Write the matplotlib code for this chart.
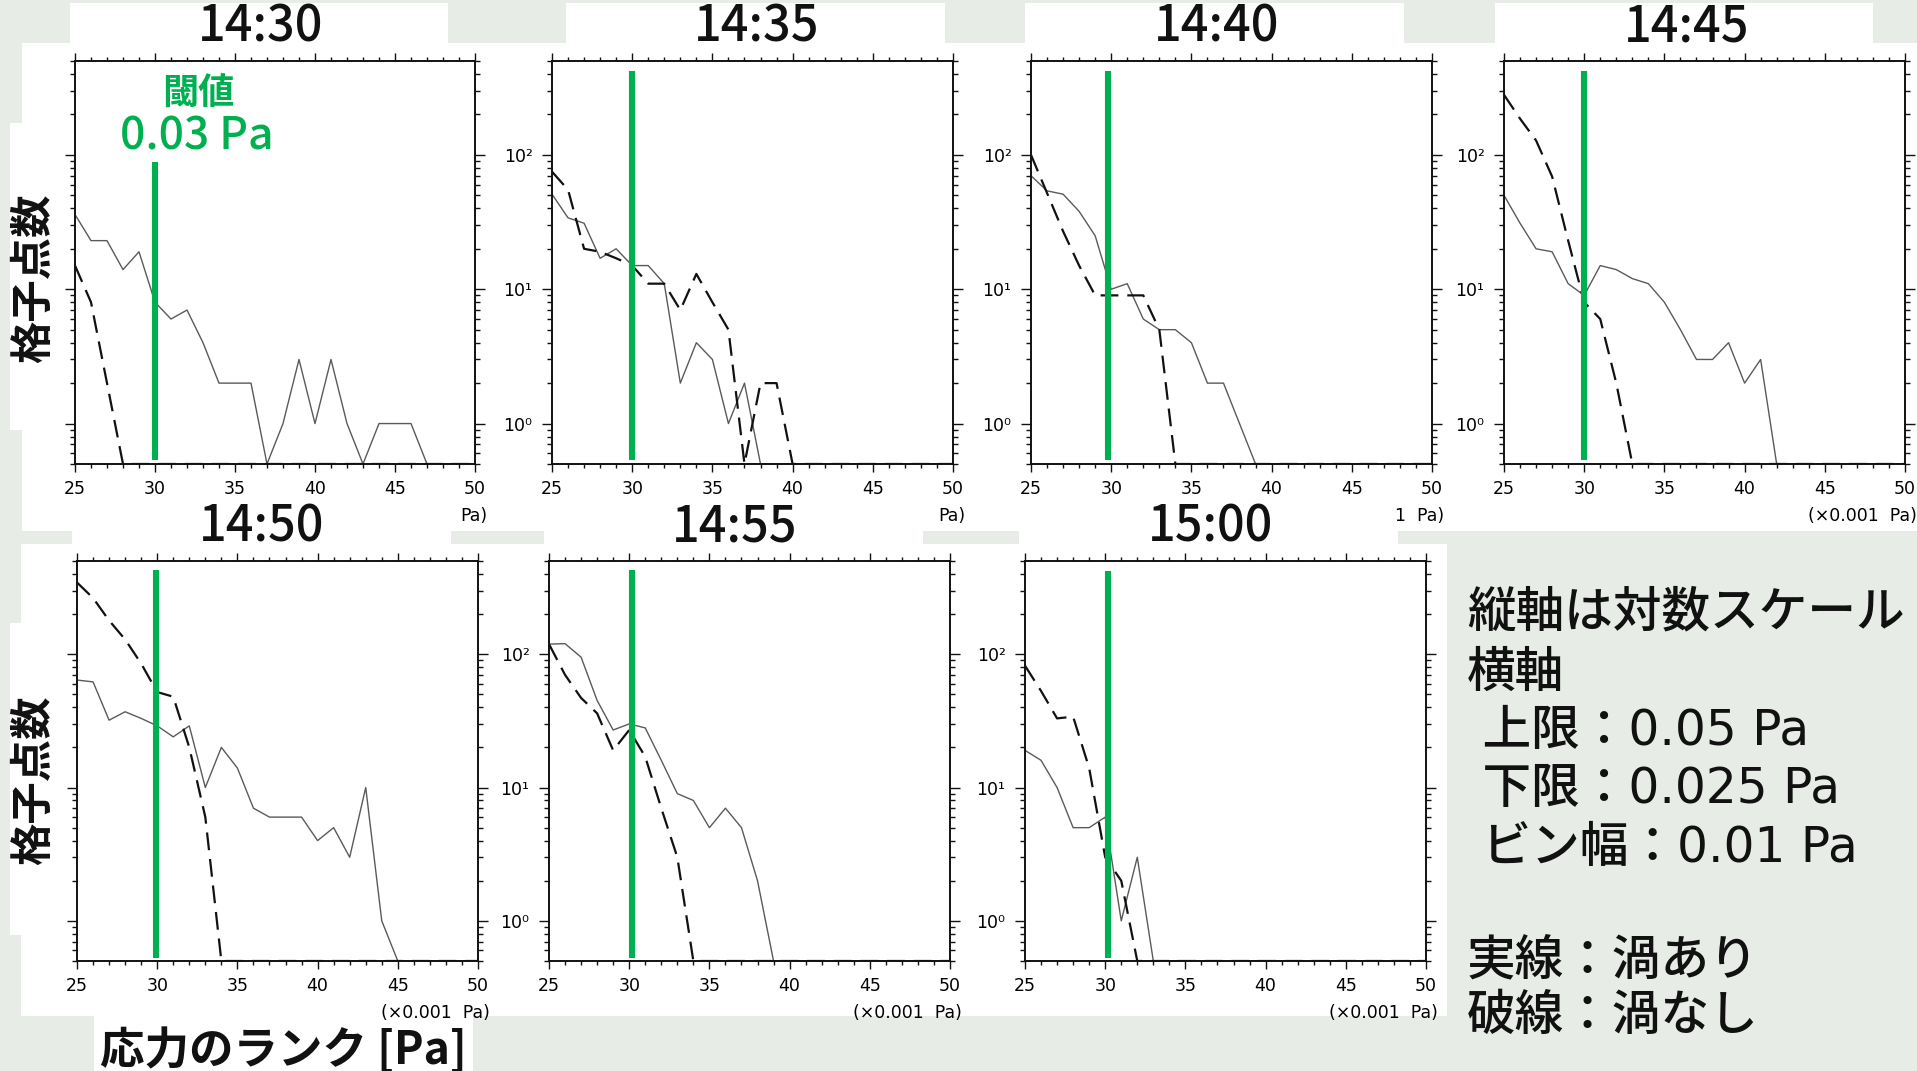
import numpy as np
import matplotlib
matplotlib.use("Agg")
import matplotlib.pyplot as plt
from matplotlib.patches import Rectangle
from matplotlib.ticker import FixedLocator, LogLocator, NullFormatter, MultipleLocator, FixedFormatter

plt.rcParams['font.family'] = ['Noto Sans CJK JP', 'DejaVu Sans']

# ---------------- data ----------------
bins = [25, 26, 27, 28, 29, 30, 31, 32, 33, 34, 35, 36, 37, 38, 39, 40,
        41, 42, 43, 44, 45, 46, 47, 48, 49, 50]          # stress rank (x0.001 Pa)
times = ["14:30", "14:35", "14:40", "14:45", "14:50", "14:55", "15:00"]

# solid line: with eddy (渦あり)
solid_1430 = [36, 23, 23, 14, 19, 8, 6, 7, 4, 2, 2, 2, 0, 1, 3, 1, 3, 1, 0, 1, 1, 1, 0, 0, 0, 0]
solid_1435 = [51, 34, 31, 17, 20, 15, 15, 11, 2, 4, 3, 1, 2, 0, 0, 0, 0, 0, 0, 0, 0, 0, 0, 0, 0, 0]
solid_1440 = [70, 54, 51, 38, 25, 10, 11, 6, 5, 5, 4, 2, 2, 1, 0, 0, 0, 0, 0, 0, 0, 0, 0, 0, 0, 0]
solid_1445 = [50, 31, 20, 19, 11, 9, 15, 14, 12, 11, 8, 5, 3, 3, 4, 2, 3, 0, 0, 0, 0, 0, 0, 0, 0, 0]
solid_1450 = [64, 62, 32, 37, 33, 29, 24, 29, 10, 20, 14, 7, 6, 6, 6, 4, 5, 3, 10, 1, 0, 0, 0, 0, 0, 0]
solid_1455 = [119, 120, 95, 45, 27, 30, 28, 16, 9, 8, 5, 7, 5, 2, 0, 0, 0, 0, 0, 0, 0, 0, 0, 0, 0, 0]
solid_1500 = [19, 16, 10, 5, 5, 6, 1, 3, 0, 0, 0, 0, 0, 0, 0, 0, 0, 0, 0, 0, 0, 0, 0, 0, 0, 0]

# dashed line: without eddy (渦なし)
dashed_1430 = [15, 8, 2, 0, 0, 0, 0, 0, 0, 0, 0, 0, 0, 0, 0, 0, 0, 0, 0, 0, 0, 0, 0, 0, 0, 0]
dashed_1435 = [75, 55, 20, 19, 17, 15, 11, 11, 7, 13, 8, 5, 0, 2, 2, 0, 0, 0, 0, 0, 0, 0, 0, 0, 0, 0]
dashed_1440 = [100, 52, 27, 15, 9, 9, 9, 9, 5, 0, 0, 0, 0, 0, 0, 0, 0, 0, 0, 0, 0, 0, 0, 0, 0, 0]
dashed_1445 = [280, 186, 128, 69, 23, 8, 6, 2, 0, 0, 0, 0, 0, 0, 0, 0, 0, 0, 0, 0, 0, 0, 0, 0, 0, 0]
dashed_1450 = [345, 264, 179, 129, 85, 52, 48, 20, 6, 0, 0, 0, 0, 0, 0, 0, 0, 0, 0, 0, 0, 0, 0, 0, 0, 0]
dashed_1455 = [119, 70, 47, 36, 19, 27, 17, 7, 3, 0, 0, 0, 0, 0, 0, 0, 0, 0, 0, 0, 0, 0, 0, 0, 0, 0]
dashed_1500 = [82, 53, 33, 34, 14, 3, 2, 0, 0, 0, 0, 0, 0, 0, 0, 0, 0, 0, 0, 0, 0, 0, 0, 0, 0, 0]

threshold_x = [30.0, 30.0, 29.8, 30.0, 29.9, 30.15, 30.15]   # threshold 0.03 Pa
xticks = [25, 30, 35, 40, 45, 50]
xtick_labels = ["25", "30", "35", "40", "45", "50"]
yticks = [1, 10, 100]
ytick_labels = ["10⁰", "10¹", "10²"]
xunit_labels = ["Pa)", "Pa)", "1  Pa)", "(×0.001  Pa)", "(×0.001  Pa)", "(×0.001  Pa)", "(×0.001  Pa)"]
notes = ["縦軸は対数スケール", "横軸", " 上限：0.05 Pa", " 下限：0.025 Pa", " ビン幅：0.01 Pa",
         "実線：渦あり", "破線：渦なし"]

solids = [solid_1430, solid_1435, solid_1440, solid_1445, solid_1450, solid_1455, solid_1500]
dasheds = [dashed_1430, dashed_1435, dashed_1440, dashed_1445, dashed_1450, dashed_1455, dashed_1500]

# ---------------- layout ----------------
W, H = 1917, 1071
DPI = 100
BG = "#e7ece6"
GREEN = "#00b050"
YMIN, YMAX = 0.5, 500
TICKFONT = ["DejaVu Sans"]

fig = plt.figure(figsize=(W / DPI, H / DPI), dpi=DPI, facecolor=BG)


def px_rect(x0, y0, x1, y1):
    return [x0 / W, 1 - y1 / H, (x1 - x0) / W, (y1 - y0) / H]


def white_box(x0, y0, x1, y1, color="white"):
    r = Rectangle((x0 / W, 1 - y1 / H), (x1 - x0) / W, (y1 - y0) / H,
                  transform=fig.transFigure, facecolor=color, edgecolor="none", zorder=-5)
    fig.add_artist(r)


# white paper areas (collage look)
for bx in [(70, 3, 448, 43), (566, 3, 945, 43), (1025, 3, 1404, 45), (1495, 3, 1873, 45),
           (22, 43, 1917, 531),
           (72, 505, 451, 546), (544, 505, 923, 546), (1019, 505, 1398, 546),
           (21, 544, 1447, 1016),
           (10, 123, 22, 430), (10, 623, 22, 935),
           (94, 1016, 473, 1071)]:
    white_box(*bx)

# axes positions (pixels)
axes_px = [(75, 61, 475, 464), (552, 61, 953, 464), (1031, 61, 1432, 464), (1504, 61, 1905, 464),
           (77, 561, 478, 961), (549, 561, 950, 961), (1025, 561, 1426, 961)]
title_px = [(261, 27), (757, 27), (1217, 27), (1687, 27), (262, 528), (735, 528), (1210, 528)]
green_span = [(0.01, 0.75), (0.01, 0.975), (0.01, 0.975), (0.01, 0.975),
              (0.008, 0.978), (0.008, 0.978), (0.008, 0.975)]

for i, (x0, y0, x1, y1) in enumerate(axes_px):
    ax = fig.add_axes(px_rect(x0, y0, x1, y1))
    ax.set_facecolor("white")
    ax.set_yscale("log")
    ax.set_xlim(25, 50)
    ax.set_ylim(YMIN, YMAX)

    xs = np.array(bins)
    s = np.clip(np.array(solids[i], dtype=float), YMIN, None)
    d = np.clip(np.array(dasheds[i], dtype=float), YMIN, None)
    ax.plot(xs, s, color="#5a5a5a", lw=1.0, zorder=2)
    ax.plot(xs, d, color="#111111", lw=1.6, linestyle=(0, (8, 4)), zorder=2)
    ax.axvline(threshold_x[i], ymin=green_span[i][0], ymax=green_span[i][1],
               color=GREEN, lw=4.4, solid_capstyle="butt", zorder=3)

    ax.xaxis.set_major_locator(FixedLocator(xticks))
    ax.xaxis.set_major_formatter(FixedFormatter(xtick_labels))
    ax.xaxis.set_minor_locator(MultipleLocator(1))
    ax.yaxis.set_major_locator(FixedLocator(yticks))
    ax.yaxis.set_major_formatter(FixedFormatter(ytick_labels))
    ax.yaxis.set_minor_locator(LogLocator(base=10, subs=range(2, 10), numticks=20))
    ax.yaxis.set_minor_formatter(NullFormatter())

    for sp in ax.spines.values():
        sp.set_linewidth(1.4)
        sp.set_color("#111111")
    ax.tick_params(axis="both", which="both", direction="out", top=True, right=True,
                   color="#111111", width=1.0)
    ax.tick_params(axis="x", which="major", length=5.5, pad=6, labelsize=12.5)
    ax.tick_params(axis="x", which="minor", length=3)
    ax.tick_params(axis="y", which="major", length=7, pad=7, labelsize=12.5)
    ax.tick_params(axis="y", which="minor", length=3.5)
    for lab in ax.get_xticklabels() + ax.get_yticklabels():
        lab.set_fontfamily(TICKFONT)
    if i in (0, 4):
        ax.tick_params(axis="y", which="both", labelleft=False)

    # unit label under x axis
    fig.text((x1 + 12) / W, 1 - (y1 + 52) / H, xunit_labels[i],
             ha="right", va="center", fontsize=12.5, family=TICKFONT)
    # panel title
    fig.text(title_px[i][0] / W, 1 - title_px[i][1] / H, times[i], ha="center", va="center",
             fontsize=35, fontweight="medium", color="#111111")

# y labels
for yc in (278, 780):
    fig.text(34 / W, 1 - yc / H, "格子点数", rotation=90, ha="center", va="center",
             fontsize=30.5, fontweight="bold", color="#111111")

# x label
fig.text(283 / W, 1 - 1051 / H, "応力のランク [Pa]", ha="center", va="center",
         fontsize=32, fontweight="bold", color="#111111")

# threshold annotation
fig.text(198 / W, 1 - 94 / H, "閾値", ha="center", va="center", fontsize=26,
         fontweight="bold", color=GREEN)
fig.text(197 / W, 1 - 137 / H, "0.03 Pa", ha="center", va="center", fontsize=32,
         fontweight="medium", color=GREEN)

# notes on the right (Latin glyphs from a wider face, CJK from Noto Sans CJK)
note_y = [612, 673, 731, 789, 848, 960, 1016]
for t, yc in zip(notes, note_y):
    fig.text(1467 / W, 1 - yc / H, t, ha="left", va="center", fontsize=35,
             fontweight="medium", family=["DejaVu Sans", "Noto Sans CJK JP"], color="#111111")

fig.savefig("out.png", dpi=DPI, facecolor=BG)
